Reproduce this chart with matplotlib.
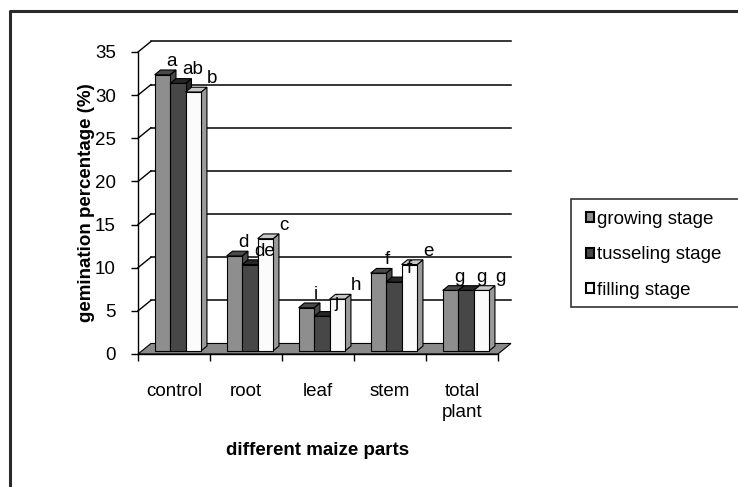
import matplotlib.pyplot as plt
from matplotlib.patches import Rectangle, Polygon, Patch
from matplotlib.lines import Line2D

plt.rcParams['font.family'] = ['Liberation Sans', 'DejaVu Sans']

# germination percentage per maize part and growth stage
parts = ["control", "root", "leaf", "stem", "total\nplant"]
stages = ["growing stage", "tusseling stage", "filling stage"]
growing = [32, 11, 5, 9, 7]
tusseling = [31, 10, 4, 8, 7]
filling = [30, 13, 6, 10, 7]
letters_growing = ["a", "d", "i", "f", "g"]
letters_tusseling = ["ab", "de", "j", "f", "g"]
letters_filling = ["b", "c", "h", "e", "g"]

series = [growing, tusseling, filling]
letters = [letters_growing, letters_tusseling, letters_filling]

# front face, top face, side face colours for each stage
face_cols = [("#8e8e8e", "#4a4a4a", "#4a4a4a"),
             ("#474747", "#262626", "#262626"),
             ("#fbfbfb", "#c8c8c8", "#9a9a9a")]
label_dx = [0.13, 0.21, 0.26]
FS = 13.5

W, H = 738, 487
fig = plt.figure(figsize=(W / 100, H / 100), dpi=100)


def fx(px):
    return px / W


def fy(py):
    return 1 - py / H


# plot box: front plane from x=138..498, y=354 (0) .. 52 (35)
ax = fig.add_axes([fx(138), fy(354), fx(498) - fx(138), fy(52) - fy(354)])
ax.set_xlim(0, 5)
ax.set_ylim(0, 35)

# depth of the pseudo-3D box in data units
DX, DY = 0.18, 1.22
f0, f1 = 0.3, 0.75
bw = 0.215

# floor
ax.add_patch(Polygon([(0, 0), (5, 0), (5 + DX, DY), (DX, DY)], closed=True,
                     facecolor="#8a8a8a", edgecolor="black", lw=0.8,
                     zorder=1, clip_on=False))

# back wall gridlines and side wall diagonals
for g in range(5, 40, 5):
    ax.plot([DX, 5 + DX], [g + DY, g + DY], color="black", lw=1.1,
            zorder=1, clip_on=False)
    ax.plot([0, DX], [g, g + DY], color="black", lw=1.0,
            zorder=1, clip_on=False)

for i in range(len(parts)):
    for j, vals in enumerate(series):
        v = vals[i]
        x0 = i + 0.5 - 1.5 * bw + j * bw + f0 * DX
        y0 = f0 * DY
        ddx, ddy = (f1 - f0) * DX, (f1 - f0) * DY
        front, top, side = face_cols[j]
        z = 3 + j
        ax.add_patch(Polygon([(x0 + bw, y0), (x0 + bw + ddx, y0 + ddy),
                              (x0 + bw + ddx, y0 + v + ddy), (x0 + bw, y0 + v)],
                             closed=True, facecolor=side, edgecolor="black",
                             lw=0.8, zorder=z, clip_on=False))
        ax.add_patch(Polygon([(x0, y0 + v), (x0 + bw, y0 + v),
                              (x0 + bw + ddx, y0 + v + ddy), (x0 + ddx, y0 + v + ddy)],
                             closed=True, facecolor=top, edgecolor="black",
                             lw=0.8, zorder=z, clip_on=False))
        ax.add_patch(Rectangle((x0, y0), bw, v, facecolor=front,
                               edgecolor="black", lw=0.8, zorder=z, clip_on=False))
        ax.text(x0 + bw / 2 + label_dx[j], v + 1.4, letters[j][i],
                ha="center", va="baseline", fontsize=FS, zorder=10)

# axes styling
for s in ["top", "right"]:
    ax.spines[s].set_visible(False)
ax.spines["left"].set_linewidth(1.0)
ax.spines["bottom"].set_linewidth(1.0)
ax.spines["left"].set_zorder(8)
ax.spines["bottom"].set_zorder(8)
ax.patch.set_visible(False)

ax.set_yticks(range(0, 40, 5))
ax.tick_params(axis="y", direction="out", length=5, width=1, pad=11,
               labelsize=FS)
ax.set_xticks(range(0, 6))
ax.set_xticklabels([])
ax.set_xticks([k + 0.5 for k in range(5)], minor=True)
ax.set_xticklabels(parts, minor=True, fontsize=FS, linespacing=1.3)
ax.tick_params(axis="x", which="major", direction="out", length=5, width=1)
ax.tick_params(axis="x", which="minor", length=0, pad=21)

ax.set_ylabel("gemination percentage (%)", fontsize=FS, fontweight="bold",
              labelpad=0)
ax.set_xlabel("different maize parts", fontsize=FS, fontweight="bold",
              labelpad=15)

# legend with its own frame running off to the right
fig.add_artist(Rectangle((fx(571), fy(307)), fx(740) - fx(571), fy(199) - fy(307),
                         transform=fig.transFigure, facecolor="white",
                         edgecolor="#333333", lw=1.2))
handles = [Patch(facecolor=face_cols[k][0], edgecolor="black", lw=1.5)
           for k in range(3)]
fig.legend(handles, stages, loc="upper left",
           bbox_to_anchor=(fx(586), fy(211)), frameon=False, fontsize=FS,
           handlelength=0.45, handleheight=0.45, handletextpad=0.15,
           labelspacing=0.98, borderaxespad=0, borderpad=0)

# outer frame
fig.add_artist(Line2D([fx(10), fx(10), fx(738)], [fy(487), fy(11), fy(11)],
                      transform=fig.transFigure, color="#2a2a2a", lw=2.2))

fig.savefig("out.png", dpi=100)
